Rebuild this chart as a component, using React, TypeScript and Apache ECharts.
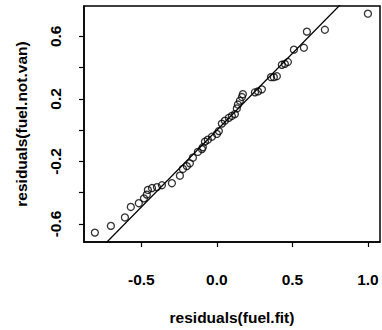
import React, { useEffect, useRef } from "react";
import * as echarts from "echarts";

const fitResiduals: number[] = [
  -0.808, -0.702, -0.609, -0.570, -0.517, -0.483, -0.464, -0.457, -0.430, -0.397,
  -0.364, -0.298, -0.245, -0.225, -0.199, -0.179, -0.159, -0.126, -0.099, -0.093,
  -0.079, -0.060, -0.033, 0.000, 0.013, 0.033, 0.053, 0.079, 0.099, 0.119,
  0.132, 0.139, 0.152, 0.166, 0.172, 0.252, 0.272, 0.298, 0.358, 0.377,
  0.397, 0.430, 0.450, 0.470, 0.510, 0.576, 0.596, 0.715, 1.000,
];
const notVanResiduals: number[] = [
  -0.655, -0.612, -0.558, -0.491, -0.467, -0.436, -0.412, -0.382, -0.370, -0.364,
  -0.352, -0.339, -0.291, -0.248, -0.230, -0.212, -0.176, -0.139, -0.121, -0.109,
  -0.073, -0.061, -0.042, -0.024, -0.006, 0.042, 0.061, 0.079, 0.091, 0.103,
  0.139, 0.164, 0.188, 0.212, 0.230, 0.242, 0.248, 0.261, 0.339, 0.339,
  0.345, 0.418, 0.424, 0.436, 0.515, 0.527, 0.630, 0.642, 0.745,
];
const fitSlope = 0.982;
const fitIntercept = 0.0;
const xTicks = [-0.5, 0.0, 0.5, 1.0];
const xTickLabels = [-0.5, 0.0, 0.5, 1.0];
const yTicks = [-0.6, -0.4, -0.2, 0.0, 0.2, 0.4, 0.6];
const yTickLabels = [-0.6, -0.2, 0.2, 0.6];
const xMin = -0.88;
const xMax = 1.08;
const yMin = -0.715;
const yMax = 0.794;

const FONT = "Liberation Sans";
const FS = 15.5;

export default function App() {
  const ref = useRef<HTMLDivElement>(null);
  useEffect(() => {
    if (!ref.current) return;
    const chart = echarts.init(ref.current, null, { renderer: "svg" });
    const pts = fitResiduals.map((x, i) => [x, notVanResiduals[i]]);
    const lineX = [xMin - 0.1, xMax + 0.1];
    const linePts = lineX.map((x) => [x, fitIntercept + fitSlope * x]);
    chart.setOption({
      animation: false,
      grid: {
        left: 84,
        top: 6,
        right: 2,
        bottom: 75,
        show: true,
        borderColor: "#000",
        borderWidth: 1.5,
        backgroundColor: "transparent",
      },
      xAxis: {
        type: "value",
        min: xMin,
        max: xMax,
        splitLine: { show: false },
        axisLine: { show: true, onZero: false, lineStyle: { color: "#000", width: 1.5 } },
        axisTick: { show: true, length: 5, customValues: xTicks, lineStyle: { color: "#000", width: 1.2 } },
        axisLabel: {
          color: "#000",
          fontFamily: FONT,
          fontWeight: "bold",
          fontSize: FS,
          margin: 29,
          customValues: xTickLabels,
          formatter: (v: number) => v.toFixed(1),
        },
        name: "residuals(fuel.fit)",
        nameLocation: "middle",
        nameGap: 67,
        nameTextStyle: { color: "#000", fontFamily: FONT, fontWeight: "bold", fontSize: FS },
      },
      yAxis: {
        type: "value",
        min: yMin,
        max: yMax,
        splitLine: { show: false },
        axisLine: { show: true, onZero: false, lineStyle: { color: "#000", width: 1.5 } },
        axisTick: { show: true, length: 5, customValues: yTicks, lineStyle: { color: "#000", width: 1.2 } },
        axisLabel: {
          color: "#000",
          fontFamily: FONT,
          fontWeight: "bold",
          fontSize: FS,
          rotate: 90,
          margin: 21,
          customValues: yTickLabels,
          formatter: (v: number) => v.toFixed(1),
        },
        name: "residuals(fuel.not.van)",
        nameLocation: "middle",
        nameGap: 55,
        nameTextStyle: { color: "#000", fontFamily: FONT, fontWeight: "bold", fontSize: FS },
      },
      series: [
        {
          type: "line",
          data: linePts,
          showSymbol: false,
          clip: true,
          lineStyle: { color: "#000", width: 1.3 },
          silent: true,
        },
        {
          type: "scatter",
          data: pts,
          symbol: "circle",
          symbolSize: 7,
          itemStyle: { color: "transparent", borderColor: "#000", borderWidth: 1.3 },
        },
      ],
    });
    return () => chart.dispose();
  }, []);
  return (
    <div
      ref={ref}
      style={{ position: "fixed", left: 0, top: 0, width: 382, height: 330, background: "#fff" }}
    />
  );
}
